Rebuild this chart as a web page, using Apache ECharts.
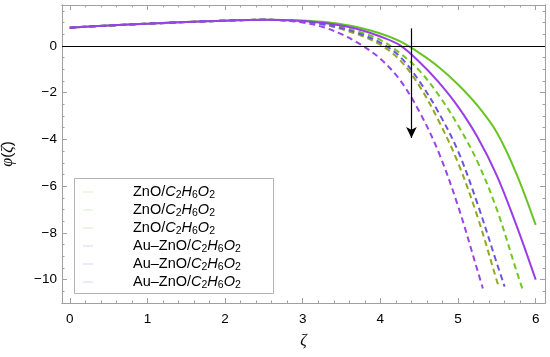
<!DOCTYPE html>
<html>
<head>
<meta charset="utf-8">
<script src="https://cdn.jsdelivr.net/npm/echarts@6/dist/echarts.min.js"></script>
<style>html,body{margin:0;padding:0;background:#fff}#c{width:550px;height:357px}</style>
</head>
<body>
<div id="c"></div>
<script>
// ---- data ----
const zetaTicks = [0, 1, 2, 3, 4, 5, 6];
const phiTicks = [0, -2, -4, -6, -8, -10];

const znoSolid = [[0,0.78],[0.5,0.87],[1,0.95],[1.5,1.02],[2,1.08],[2.5,1.12],[3,1.09],[3.25,1.03],[3.5,0.93],[3.75,0.77],[4,0.53],[4.25,0.2],[4.5,-0.3],[4.75,-0.9],[5,-1.65],[5.25,-2.55],[5.5,-3.7],[5.75,-5.45],[6,-7.66]];
const znoDash1 = [[0,0.78],[0.5,0.87],[1,0.95],[1.5,1.02],[2,1.08],[2.5,1.12],[3,1.05],[3.25,0.96],[3.5,0.81],[3.75,0.58],[4,0.26],[4.25,-0.3],[4.5,-1.05],[4.75,-2.1],[5,-3.4],[5.25,-4.95],[5.5,-7.0],[5.75,-9.6],[5.83,-10.4]];
const znoDash2 = [[0,0.78],[0.5,0.87],[1,0.95],[1.5,1.02],[2,1.08],[2.5,1.12],[3,1.04],[3.25,0.92],[3.5,0.72],[3.75,0.44],[4,0.05],[4.25,-0.6],[4.5,-1.7],[4.75,-3.2],[5,-5.0],[5.25,-7.3],[5.5,-10.05],[5.53,-10.37]];
const auSolid = [[0,0.78],[0.5,0.87],[1,0.95],[1.5,1.02],[2,1.08],[2.5,1.12],[3,1.07],[3.25,0.99],[3.5,0.87],[3.75,0.68],[4,0.4],[4.25,0.03],[4.5,-0.68],[4.75,-1.55],[5,-2.6],[5.25,-3.9],[5.5,-5.55],[5.75,-7.66],[6,-10.0]];
const auDash1 = [[0,0.78],[0.5,0.87],[1,0.95],[1.5,1.02],[2,1.08],[2.5,1.12],[3,1.05],[3.25,0.94],[3.5,0.76],[3.75,0.5],[4,0.14],[4.25,-0.45],[4.5,-1.5],[4.75,-2.85],[5,-4.5],[5.25,-6.75],[5.5,-9.3],[5.6,-10.3]];
const auDash2 = [[0,0.78],[0.5,0.87],[1,0.95],[1.5,1.02],[2,1.08],[2.5,1.12],[2.75,1.09],[3,1.0],[3.25,0.82],[3.5,0.5],[3.75,0.05],[4,-0.55],[4.25,-1.45],[4.5,-2.8],[4.75,-4.55],[5,-6.85],[5.25,-9.6],[5.32,-10.38]];

const seriesNames = ['ZnO-1', 'ZnO-2', 'ZnO-3', 'Au-1', 'Au-2', 'Au-3'];
const legendLabels = ['ZnO/', 'ZnO/', 'ZnO/', 'Au\u2013ZnO/', 'Au\u2013ZnO/', 'Au\u2013ZnO/'];
const arrowStart = [4.4, 0.75];
const arrowEnd = [4.4, -3.94];

// ---- styling ----
const colors = ['#68c423', '#70c820', '#93a81c', '#9b3de6', '#6a55e0', '#9a44e8'];
const dashes = ['solid', [6, 4], [6, 4], 'solid', [6, 4], [6, 4]];
const dataSets = [znoSolid, znoDash1, znoDash2, auSolid, auDash1, auDash2];

const zetaMinor = [];
for (let i = 0; i <= 30; i++) zetaMinor.push(+(i * 0.2).toFixed(2));
const phiMinor = [];
for (let i = -22; i <= 3; i++) phiMinor.push(i * 0.5);

const frameColor = '#a0a0a0';
const FONT = 'Liberation Sans';
const fmtNum = v => (v < 0 ? '\u2212' + (-v) : String(v));

function xAx(pos, ticks, len, labels) {
  return {
    type: 'value', min: -0.1, max: 6.12, position: pos,
    axisLine: { show: true, onZero: false, lineStyle: { color: frameColor, width: 1 } },
    axisTick: { show: true, inside: true, length: len, customValues: ticks, lineStyle: { color: frameColor, width: 1 } },
    axisLabel: labels ? { show: true, customValues: zetaTicks, color: '#000', fontSize: 13.5, fontFamily: FONT, margin: 9, formatter: fmtNum } : { show: false },
    splitLine: { show: false }
  };
}
function yAx(pos, ticks, len, labels) {
  return {
    type: 'value', min: -11, max: 1.75, position: pos,
    axisLine: { show: true, onZero: false, lineStyle: { color: frameColor, width: 1 } },
    axisTick: { show: true, inside: true, length: len, customValues: ticks, lineStyle: { color: frameColor, width: 1 } },
    axisLabel: labels ? { show: true, customValues: phiTicks, color: '#000', fontSize: 13.5, fontFamily: FONT, margin: 5, formatter: fmtNum } : { show: false },
    splitLine: { show: false }
  };
}

const xAxes = [xAx('bottom', zetaTicks, 5, true), xAx('bottom', zetaMinor, 2.5, false), xAx('top', zetaTicks, 5, false), xAx('top', zetaMinor, 2.5, false)];
Object.assign(xAxes[0], { name: 'ζ', nameLocation: 'middle', nameGap: 30, nameTextStyle: { fontStyle: 'italic', fontSize: 16, color: '#000', fontFamily: 'Liberation Serif' } });
const yAxes = [yAx('left', phiTicks, 5, true), yAx('left', phiMinor, 2.5, false), yAx('right', phiTicks, 5, false), yAx('right', phiMinor, 2.5, false)];
Object.assign(yAxes[0], { name: '{i|φ}({i|ζ})', nameLocation: 'middle', nameGap: 46, nameRotate: 90,
  nameTextStyle: { fontSize: 15, color: '#000', fontFamily: FONT, rich: { i: { fontStyle: 'italic', fontSize: 16, fontFamily: 'Liberation Serif', color: '#000' } } } });

const series = dataSets.map((d, i) => ({
  name: seriesNames[i], type: 'line', data: d, xAxisIndex: 0, yAxisIndex: 0,
  showSymbol: false, symbol: 'none', smooth: 0.35, clip: true, z: 3,
  lineStyle: { color: colors[i], width: 2, type: dashes[i] },
  itemStyle: { color: colors[i] }
}));
series.unshift({
  name: 'zero', type: 'line', data: [], xAxisIndex: 0, yAxisIndex: 0, z: 2, silent: true,
  markLine: { silent: true, symbol: ['none', 'none'], label: { show: false }, animation: false,
    lineStyle: { color: '#000', width: 1, type: 'solid' }, data: [{ yAxis: 0 }] }
});
series.push({
  name: 'arrow', type: 'line', data: [], xAxisIndex: 0, yAxisIndex: 0, z: 5, silent: true,
  markLine: { silent: true, symbol: ['none', 'arrow'], symbolSize: [8, 11], label: { show: false }, animation: false,
    lineStyle: { color: '#000', width: 1.2, type: 'solid' }, itemStyle: { color: '#000' },
    data: [[{ coord: arrowStart }, { coord: arrowEnd }]] }
});

const option = {
  animation: false,
  backgroundColor: '#fff',
  grid: { left: 62, right: 5, top: 5, bottom: 54, containLabel: false, outerBoundsMode: 'none' },
  xAxis: xAxes,
  yAxis: yAxes,
  graphic: [{ type: 'rect', left: 74, top: 178, z: 3, shape: { x: 0, y: 0, width: 199, height: 115 },
    style: { fill: '#fff', stroke: '#b5b5b5', lineWidth: 1 } }],
  legend: {
    orient: 'vertical', left: 78, top: 178, z: 10, itemGap: 0, itemWidth: 10, itemHeight: 1, icon: 'rect',
    selectedMode: false,
    data: seriesNames.map((n, i) => ({ name: n, itemStyle: { color: colors[i], opacity: 0.25 } })),
    formatter: n => {
      const k = seriesNames.indexOf(n);
      return '{sp|}{r|' + legendLabels[k] + '}{i|C}{s|2}{i|H}{s|6}{i|O}{s|2}';
    },
    textStyle: {
      color: '#000', fontSize: 14.5, fontFamily: FONT, lineHeight: 15,
      rich: {
        sp: { width: 35, lineHeight: 15 },
        r: { fontSize: 14.5, fontFamily: FONT, lineHeight: 15, color: '#000' },
        i: { fontSize: 14.5, fontFamily: FONT, fontStyle: 'italic', lineHeight: 15, color: '#000' },
        s: { fontSize: 10.5, fontFamily: FONT, lineHeight: 8, padding: [7, 0, 0, 0], color: '#000' }
      }
    }
  },
  series: series
};

const chart = echarts.init(document.getElementById('c'), null, { renderer: 'canvas' });
chart.setOption(option);
</script>
</body>
</html>
